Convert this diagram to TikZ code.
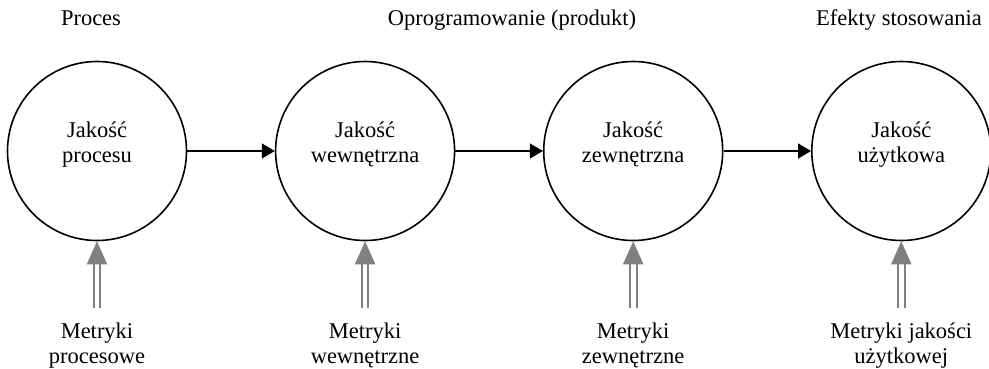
\documentclass[tikz,border=0pt]{standalone}
\usepackage{fontspec}
\setmainfont{Liberation Serif}
\usetikzlibrary{arrows.meta,positioning}
\begin{document}
\begin{tikzpicture}[x=1pt,y=-1pt,
		every node/.style={font=\fontsize{22.5}{25.3}\selectfont, align=center, inner sep=0pt},
		quality/.style={draw, circle, line width=1.6pt, minimum size=179pt},
		flow/.style={line width=1.5pt, -{Triangle[length=13pt,width=15pt]}},
		metric/.style={draw=gray, double=white, line width=2pt, double distance=4.6pt, -{Triangle[length=23pt,width=20pt]}}]
		\useasboundingbox (0,0) rectangle (989,368);
		% headings
		\node[anchor=base] (hproc) at (91,25) {Proces};
		\node[anchor=base] (hsoft) at (512,25) {Oprogramowanie (produkt)};
		\node[anchor=base] (heff) at (899,25) {Efekty stosowania};
		% quality circles
		\node[quality] (proc) at (97,151) {};
		\node[quality, right=87.5pt of proc] (int) {};
		\node[quality, right=87.5pt of int] (ext) {};
		\node[quality, right=87.5pt of ext] (use) {};
		\node (tproc) at ([yshift=6.7pt]proc.center) {Jakość\\procesu};
		\node (tint) at ([yshift=6.7pt]int.center) {Jakość\\wewnętrzna};
		\node (text) at ([yshift=6.7pt]ext.center) {Jakość\\zewnętrzna};
		\node (tuse) at ([yshift=6.7pt]use.center) {Jakość\\użytkowa};
		\draw[flow] (proc) -- (int);
		\draw[flow] (int) -- (ext);
		\draw[flow] (ext) -- (use);
		% metrics
		\node[below=81pt of proc] (mproc) {Metryki\\procesowe};
		\node[below=81pt of int] (mint) {Metryki\\wewnętrzne};
		\node[below=81pt of ext] (mext) {Metryki\\zewnętrzne};
		\node[below=81pt of use] (muse) {Metryki jakości\\użytkowej};
		\foreach \m/\q in {mproc/proc, mint/int, mext/ext, muse/use}
			\draw[metric] ([yshift=14pt]\m.north) -- (\q.south);
\end{tikzpicture}
\end{document}
